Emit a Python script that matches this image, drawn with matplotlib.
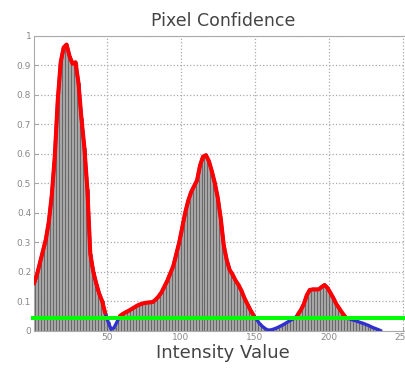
import numpy as np
import matplotlib
matplotlib.use('Agg')
import matplotlib.pyplot as plt

plt.rcParams['font.family'] = ['DejaVu Sans']

# Histogram of pixel confidence, one value per 2 intensity levels
intensity = np.arange(1, 236, 2)
confidence = [
    0.16, 0.19, 0.23, 0.27, 0.31, 0.37, 0.46, 0.59, 0.78, 0.91,
    0.96, 0.97, 0.93, 0.905, 0.91, 0.84, 0.72, 0.62, 0.48, 0.26,
    0.20, 0.16, 0.125, 0.10, 0.06, 0.03, 0.005, 0.01, 0.03, 0.05,
    0.057, 0.063, 0.068, 0.074, 0.08, 0.086, 0.09, 0.093, 0.095, 0.096,
    0.097, 0.105, 0.116, 0.13, 0.15, 0.17, 0.195, 0.22, 0.26, 0.30,
    0.35, 0.40, 0.44, 0.47, 0.49, 0.51, 0.56, 0.59, 0.595, 0.575,
    0.54, 0.50, 0.45, 0.38, 0.29, 0.24, 0.206, 0.19, 0.17, 0.155,
    0.135, 0.11, 0.09, 0.07, 0.053, 0.04, 0.025, 0.015, 0.007, 0.002,
    0.003, 0.006, 0.01, 0.015, 0.02, 0.026, 0.032, 0.038, 0.043, 0.055,
    0.07, 0.09, 0.12, 0.138, 0.14, 0.14, 0.14, 0.148, 0.155, 0.145,
    0.128, 0.11, 0.09, 0.075, 0.06, 0.047, 0.042, 0.038, 0.035, 0.032,
    0.028, 0.025, 0.021, 0.017, 0.012, 0.008, 0.004, 0.0,
]
threshold = 0.044

conf = np.array(confidence)

fig = plt.figure(figsize=(4.06, 3.69), dpi=100)
ax = fig.add_axes([34 / 406, 1 - 330.7 / 369, 378 / 406, 295 / 369])

ax.bar(intensity, conf, width=2, facecolor='#a6a6a6', edgecolor='#454545',
       linewidth=0.4, zorder=2)

# below threshold in blue, above in red
ax.plot(intensity, conf, color='#3030d0', linewidth=2.4, zorder=3,
        solid_capstyle='round')
above = np.where(conf >= threshold, conf, np.nan)
ax.plot(intensity, above, color='#ff0000', linewidth=2.9, zorder=4,
        solid_capstyle='round')

ax.plot([0, 260], [threshold, threshold], color='#00ff00', linewidth=2.9,
        zorder=5, clip_on=False)

ax.set_xlim(1, 256)
ax.set_ylim(0, 1)
ax.set_xticks([50, 100, 150, 200, 250])
ax.set_yticks(np.arange(0, 1.01, 0.1))
ax.set_yticklabels(['0', '0.1', '0.2', '0.3', '0.4', '0.5', '0.6', '0.7',
                    '0.8', '0.9', '1'])
ax.tick_params(direction='in', length=3, width=0.6, colors='#999999',
               labelcolor='#888888', labelsize=6.5, pad=2)
ax.grid(True, linestyle=':', color='#aaaaaa', linewidth=0.9, zorder=0)
ax.set_axisbelow(True)
for s in ax.spines.values():
    s.set_color('#aaaaaa')
    s.set_linewidth(0.8)

ax.set_title('Pixel Confidence', fontsize=12.5, color='#444444', pad=7)
ax.set_xlabel('Intensity Value', fontsize=13, color='#444444', labelpad=1)

fig.savefig('out.png', dpi=100)
